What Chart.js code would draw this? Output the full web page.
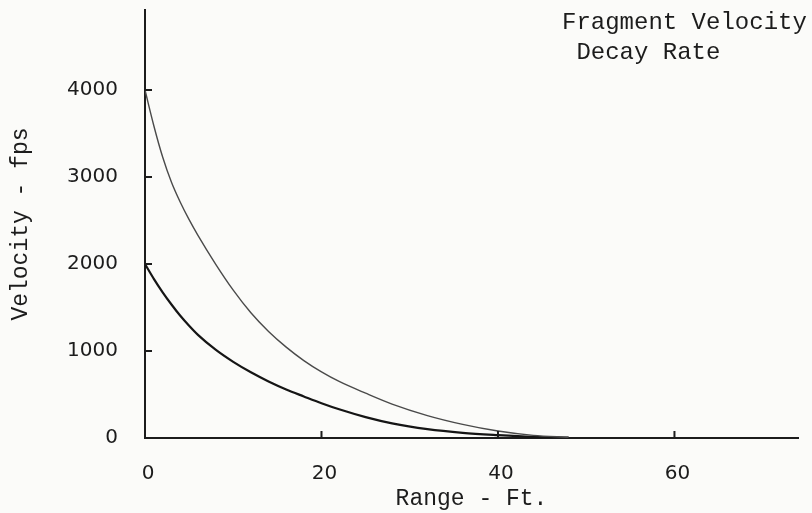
<!DOCTYPE html>
<html>
<head>
<meta charset="utf-8">
<script src="https://cdn.jsdelivr.net/npm/chart.js@4.4.1/dist/chart.umd.min.js"></script>
<style>
  body { margin: 0; background: #fbfbf9; }
  #wrap { width: 812px; height: 513px; position: relative; }
</style>
</head>
<body>
<div id="wrap"><canvas id="decay"></canvas></div>
<script>
// range in ft, velocities in fps
const rangeFt = [0, 1, 2, 3, 4, 5, 6, 8, 10, 12, 14, 16, 18, 20, 22, 25, 28, 32, 36, 40, 44, 48];
const upperFps = [4000, 3590, 3230, 2940, 2710, 2510, 2330, 2000, 1700, 1440, 1225, 1045, 890, 760, 650, 515, 390, 258, 157, 80, 30, 8];
const lowerFps = [2000, 1830, 1675, 1535, 1405, 1290, 1185, 1015, 875, 755, 650, 558, 478, 400, 330, 240, 168, 102, 60, 34, 14, 4];
const xTicks = [0, 20, 40, 60];
const yTicks = [0, 1000, 2000, 3000, 4000];
const titleLines = ['Fragment Velocity', ' Decay Rate'];

const mono = '"Liberation Mono", "Courier New", monospace';
const ink = '#1c1c1c';

const toPoints = vals => vals.map((v, i) => ({ x: rangeFt[i], y: v }));

// typed note in the upper right corner + short tick marks pointing into the plot
const extrasPlugin = {
  id: 'extras',
  afterDraw(chart) {
    const ctx = chart.ctx;
    const { x, y } = chart.scales;
    const area = chart.chartArea;
    ctx.save();
    ctx.strokeStyle = ink;
    ctx.lineWidth = 2;
    ctx.beginPath();
    yTicks.slice(1).forEach(v => {
      const py = y.getPixelForValue(v);
      ctx.moveTo(area.left, py);
      ctx.lineTo(area.left + 7, py);
    });
    xTicks.slice(1).forEach(v => {
      const px = x.getPixelForValue(v);
      ctx.moveTo(px, area.bottom);
      ctx.lineTo(px, area.bottom - 7);
    });
    ctx.stroke();

    ctx.font = '24px ' + mono;
    ctx.fillStyle = ink;
    ctx.textBaseline = 'middle';
    ctx.textAlign = 'left';
    titleLines.forEach((t, i) => ctx.fillText(t, 562, 23 + i * 30));
    ctx.restore();
  }
};

new Chart(document.getElementById('decay'), {
  type: 'line',
  data: {
    datasets: [
      {
        label: 'upper',
        data: toPoints(upperFps),
        borderColor: '#4a4a4a',
        borderWidth: 1.4,
        pointRadius: 0,
        cubicInterpolationMode: 'monotone'
      },
      {
        label: 'lower',
        data: toPoints(lowerFps),
        borderColor: '#151515',
        borderWidth: 2.2,
        pointRadius: 0,
        cubicInterpolationMode: 'monotone'
      }
    ]
  },
  options: {
    responsive: true,
    maintainAspectRatio: false,
    animation: false,
    layout: { padding: { top: 10, right: 14, left: 0, bottom: 0 } },
    plugins: {
      legend: { display: false },
      tooltip: { enabled: false }
    },
    scales: {
      x: {
        type: 'linear',
        min: 0,
        max: 74,
        afterBuildTicks: s => { s.ticks = xTicks.map(v => ({ value: v })); },
        afterFit: s => { s.height = 75; },
        border: { color: ink, width: 2 },
        grid: { display: false, drawTicks: false },
        ticks: {
          padding: 24,
          labelOffset: 3,
          color: ink,
          font: { family: '"DejaVu Sans", sans-serif', size: 20 },
          callback: v => String(v)
        },
        title: {
          display: true,
          text: 'Range - Ft.',
          color: ink,
          font: { family: mono, size: 23 },
          padding: { top: 0, bottom: 0 }
        }
      },
      y: {
        min: 0,
        max: 4920,
        afterBuildTicks: s => { s.ticks = yTicks.map(v => ({ value: v })); },
        // the big label gap would otherwise push the plot down
        afterFit: s => { s.width = 145; s.paddingTop = 0; s.paddingBottom = 0; },
        border: { color: ink, width: 2 },
        grid: { display: false, drawTicks: false },
        ticks: {
          padding: 27,
          color: ink,
          font: { family: '"DejaVu Sans", sans-serif', size: 20 },
          callback: v => String(v)
        },
        title: {
          display: true,
          text: 'Velocity - fps',
          color: ink,
          font: { family: mono, size: 23 },
          padding: { top: 7, bottom: 0 }
        }
      }
    }
  },
  plugins: [extrasPlugin]
});
</script>
</body>
</html>
